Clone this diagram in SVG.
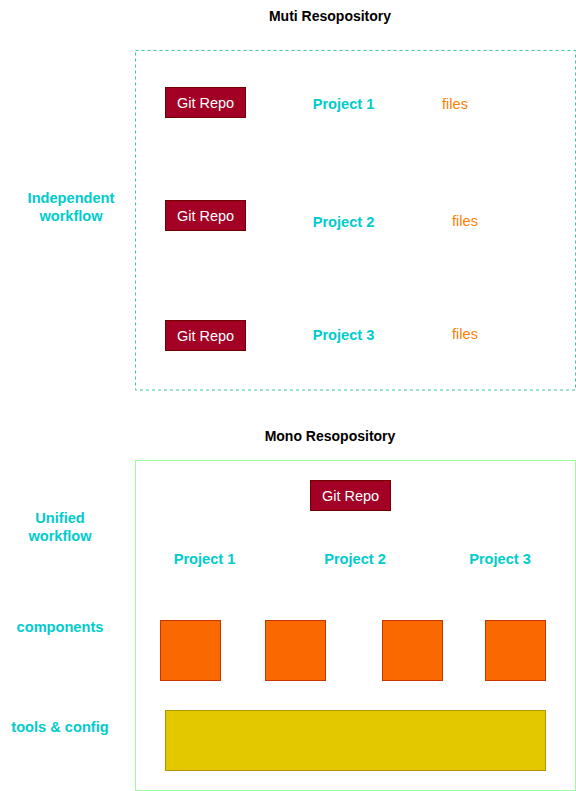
<svg xmlns="http://www.w3.org/2000/svg" width="576" height="791" viewBox="0 0 576 791">
<style>
text{font-family:"Liberation Sans",Arial,sans-serif;text-anchor:middle}
.title{font-size:14px;font-weight:bold;fill:#000}
.lbl{font-size:14.6px;font-weight:bold;fill:#00CCCC}
.files{font-size:14.5px;fill:#FF8000}
.repo rect{fill:#A20025;stroke:#6F0000;stroke-width:1}
.repo text{font-size:14.5px;fill:#fff}
.comp{fill:#FA6800;stroke:#C73500;stroke-width:1}
</style>
<rect width="576" height="791" fill="#fff"/>
<g id="title-multi"><text class="title" x="330" y="21">Muti Resopository</text></g>
<g id="title-mono"><text class="title" x="330" y="441">Mono Resopository</text></g>
<g id="multi-box"><rect x="135.5" y="50.5" width="440" height="339.5" fill="none" stroke="#3DC995" stroke-dasharray="3 3"/></g>
<g id="mono-box"><rect x="135.5" y="460.5" width="440" height="330" fill="none" stroke="#99FF99"/></g>
<g id="lbl-independent"><text class="lbl" x="71" y="203">Independent</text><text class="lbl" x="71" y="220.5">workflow</text></g>
<g id="lbl-unified"><text class="lbl" x="60" y="522.5">Unified</text><text class="lbl" x="60" y="540.5">workflow</text></g>
<g id="lbl-components"><text class="lbl" x="60" y="632">components</text></g>
<g id="lbl-tools"><text class="lbl" x="60" y="731.5">tools &amp; config</text></g>
<g id="repo1" class="repo"><rect x="165.5" y="87.5" width="80" height="30"/><text x="205.5" y="108">Git Repo</text></g>
<g id="repo2" class="repo"><rect x="165.5" y="200.5" width="80" height="30"/><text x="205.5" y="221">Git Repo</text></g>
<g id="repo3" class="repo"><rect x="165.5" y="320.5" width="80" height="30"/><text x="205.5" y="341">Git Repo</text></g>
<g id="m-project1"><text class="lbl" x="343.5" y="109">Project 1</text></g>
<g id="m-project2"><text class="lbl" x="343.5" y="226.5">Project 2</text></g>
<g id="m-project3"><text class="lbl" x="343.5" y="339.5">Project 3</text></g>
<g id="files1"><text class="files" x="455" y="109">files</text></g>
<g id="files2"><text class="files" x="465" y="226">files</text></g>
<g id="files3"><text class="files" x="465" y="339">files</text></g>
<g id="repo-mono" class="repo"><rect x="310.5" y="480.5" width="80" height="30"/><text x="350.5" y="501">Git Repo</text></g>
<g id="p1"><text class="lbl" x="204.5" y="564">Project 1</text></g>
<g id="p2"><text class="lbl" x="355" y="564">Project 2</text></g>
<g id="p3"><text class="lbl" x="500" y="564">Project 3</text></g>
<g id="comp1"><rect class="comp" x="160.5" y="620.5" width="60" height="60"/></g>
<g id="comp2"><rect class="comp" x="265.5" y="620.5" width="60" height="60"/></g>
<g id="comp3"><rect class="comp" x="382.5" y="620.5" width="60" height="60"/></g>
<g id="comp4"><rect class="comp" x="485.5" y="620.5" width="60" height="60"/></g>
<g id="tools"><rect x="165.5" y="710.5" width="380" height="60" fill="#E3C800" stroke="#B09500"/></g>
<g id="connectors"></g>
</svg>
